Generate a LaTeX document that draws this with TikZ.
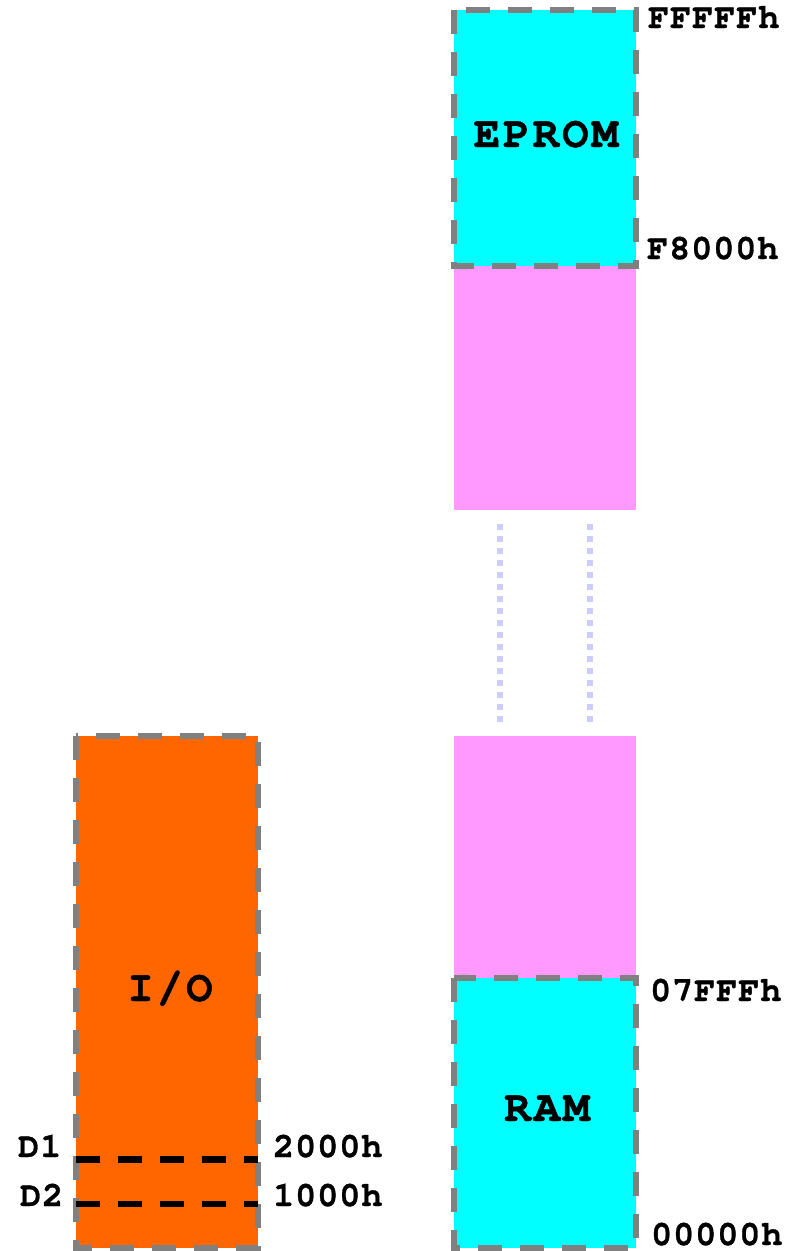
\documentclass[tikz,border=0pt]{standalone}
\usepackage{fontspec}
\newfontfamily\addrfont{texgyrecursor-bold.otf}[LetterSpace=3, FakeBold=1]
\newfontfamily\bigfont{texgyrecursor-bold.otf}[LetterSpace=7, FakeBold=1]
\definecolor{memcyan}{HTML}{00FFFF}
\definecolor{mempink}{HTML}{FF99FF}
\definecolor{memorange}{HTML}{FF6600}
\definecolor{bordergray}{HTML}{808080}
\definecolor{dotblue}{HTML}{CCCCFF}
\tikzset{
  block/.style={rectangle, inner sep=0pt, outer sep=0pt, draw=none, minimum width=182pt},
  border/.style={draw=bordergray, line width=6pt, dash pattern=on 24pt off 18pt, line cap=butt, line join=miter},
  divider/.style={draw=black, line width=6.5pt, dash pattern=on 24pt off 18pt, line cap=butt},
  gapline/.style={draw=dotblue, line width=6pt, dash pattern=on 6pt off 6pt, line cap=butt},
  addr/.style={anchor=base west, inner sep=0pt, font=\addrfont\fontsize{35}{35}\selectfont},
  title/.style={anchor=base, inner sep=0pt, font=\bigfont\fontsize{44}{44}\selectfont}
}
\begin{document}
\begin{tikzpicture}[x=1pt,y=-1pt]
\useasboundingbox (0,0) rectangle (797,1251);
% memory column
\node[block, fill=mempink, minimum height=244pt] (pinkhi) at (545,388) {};
\node[block, fill=mempink, minimum height=242pt] (pinklo) at (545,857) {};
\node[block, fill=memcyan, minimum height=256pt] (eprom) at (545,138) {};
\node[block, fill=memcyan, minimum height=270pt] (ram) at (545,1113) {};
\node[block, fill=memorange, minimum height=512pt] (io) at (167,992) {};
% borders
\draw[border] (eprom.north west) -- (eprom.south west) -- (eprom.south east) -- (eprom.north east) -- cycle;
\draw[border] (ram.north west) -- (ram.south west) -- (ram.south east) -- (ram.north east) -- cycle;
\draw[border] (io.north west) -- (io.south west) -- (io.south east) -- (io.north east) -- cycle;
% gap dotted lines
\coordinate (gl1) at (500,524);
\coordinate (gl2) at (500,722);
\coordinate (gr1) at (590,524);
\coordinate (gr2) at (590,722);
\draw[gapline] (gl1) -- (gl2);
\draw[gapline] (gr1) -- (gr2);
% I/O dividers
\coordinate (d1l) at (76,1159.5);
\coordinate (d1r) at (258,1159.5);
\coordinate (d2l) at (76,1204);
\coordinate (d2r) at (258,1204);
\draw[divider] (d1l) -- (d1r);
\draw[divider] (d2l) -- (d2r);
% titles
\node[title] (tEprom) at (546,147) {EPROM};
\node[title] (tRam) at (547,1121) {RAM};
\node[title] (tIo) at (170,1001) {I/O};
% addresses
\node[addr] (aFFFFF) at (648,28) {FFFFFh};
\node[addr] (aF8000) at (647,259) {F8000h};
\node[addr] (a07FFF) at (650,1001) {07FFFh};
\node[addr] (a00000) at (651,1245) {00000h};
\node[addr] (a2000) at (273,1157) {2000h};
\node[addr] (a1000) at (273,1206) {1000h};
\node[addr] (lD1) at (18,1157) {D1};
\node[addr] (lD2) at (20,1206) {D2};
\end{tikzpicture}
\end{document}
